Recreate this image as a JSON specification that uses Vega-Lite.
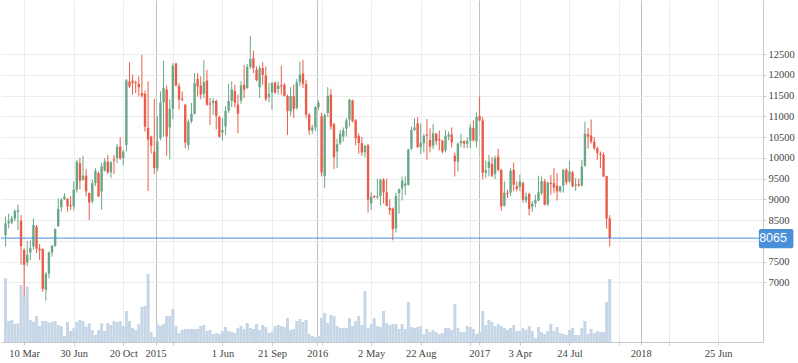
{
  "$schema": "https://vega.github.io/schema/vega-lite/v6.json",
  "width": 762,
  "height": 342,
  "padding": 0,
  "background": "white",
  "config": {"view": {"stroke": null}},
  "datasets": {
    "wk": [
      {"t":"2014-01-27","o":8140,"h":8580,"l":7860,"c":8420,"v":191},
      {"t":"2014-02-03","o":8420,"h":8650,"l":8300,"c":8470,"v":63},
      {"t":"2014-02-10","o":8440,"h":8600,"l":8400,"c":8540,"v":66},
      {"t":"2014-02-17","o":8540,"h":8760,"l":8470,"c":8720,"v":54},
      {"t":"2014-02-24","o":8700,"h":8870,"l":8260,"c":8740,"v":56},
      {"t":"2014-03-03","o":8480,"h":8620,"l":7420,"c":7870,"v":171},
      {"t":"2014-03-10","o":7780,"h":7820,"l":6650,"c":7420,"v":136},
      {"t":"2014-03-17","o":7480,"h":8000,"l":7390,"c":7660,"v":166},
      {"t":"2014-03-24","o":7720,"h":8010,"l":7540,"c":7820,"v":66},
      {"t":"2014-03-31","o":7860,"h":8540,"l":7780,"c":8380,"v":61},
      {"t":"2014-04-07","o":8340,"h":8380,"l":7700,"c":7810,"v":78},
      {"t":"2014-04-14","o":7810,"h":7920,"l":7540,"c":7770,"v":48},
      {"t":"2014-04-21","o":7800,"h":7820,"l":6770,"c":6840,"v":63},
      {"t":"2014-04-28","o":6820,"h":7250,"l":6560,"c":7200,"v":63},
      {"t":"2014-05-05","o":7210,"h":7740,"l":7100,"c":7720,"v":58},
      {"t":"2014-05-12","o":7720,"h":7900,"l":7620,"c":7880,"v":60},
      {"t":"2014-05-19","o":7880,"h":8300,"l":7850,"c":8280,"v":63},
      {"t":"2014-05-26","o":8350,"h":9020,"l":8340,"c":8770,"v":51},
      {"t":"2014-06-02","o":8810,"h":9030,"l":8700,"c":8990,"v":48},
      {"t":"2014-06-09","o":9000,"h":9150,"l":8980,"c":9070,"v":18},
      {"t":"2014-06-16","o":9010,"h":9030,"l":8700,"c":8830,"v":60},
      {"t":"2014-06-23","o":8860,"h":9080,"l":8740,"c":8830,"v":33},
      {"t":"2014-06-30","o":8830,"h":9430,"l":8730,"c":9230,"v":41},
      {"t":"2014-07-07","o":9230,"h":9950,"l":9160,"c":9900,"v":60},
      {"t":"2014-07-14","o":9870,"h":10000,"l":9240,"c":9450,"v":66},
      {"t":"2014-07-21","o":9470,"h":10050,"l":9440,"c":9570,"v":63},
      {"t":"2014-07-28","o":9570,"h":9730,"l":9070,"c":9190,"v":46},
      {"t":"2014-08-04","o":9150,"h":9160,"l":8500,"c":8920,"v":56},
      {"t":"2014-08-11","o":8950,"h":9470,"l":8900,"c":9390,"v":36},
      {"t":"2014-08-18","o":9390,"h":9750,"l":9320,"c":9690,"v":21},
      {"t":"2014-08-25","o":9630,"h":9670,"l":9050,"c":9070,"v":36},
      {"t":"2014-09-01","o":9190,"h":9870,"l":8750,"c":9790,"v":56},
      {"t":"2014-09-08","o":9690,"h":9990,"l":9670,"c":9910,"v":33},
      {"t":"2014-09-15","o":9900,"h":10070,"l":9610,"c":9650,"v":57},
      {"t":"2014-09-22","o":9650,"h":9920,"l":9510,"c":9890,"v":51},
      {"t":"2014-09-29","o":9960,"h":10070,"l":9610,"c":9930,"v":63},
      {"t":"2014-10-06","o":9990,"h":10330,"l":9870,"c":10270,"v":60},
      {"t":"2014-10-13","o":10270,"h":10490,"l":9950,"c":9990,"v":63},
      {"t":"2014-10-20","o":9990,"h":10190,"l":9810,"c":10150,"v":48},
      {"t":"2014-10-27","o":10310,"h":11900,"l":10150,"c":11865,"v":93},
      {"t":"2014-11-03","o":11840,"h":12300,"l":11680,"c":11720,"v":63},
      {"t":"2014-11-10","o":11860,"h":12000,"l":11520,"c":11800,"v":42},
      {"t":"2014-11-17","o":11820,"h":11860,"l":11560,"c":11790,"v":36},
      {"t":"2014-11-24","o":11780,"h":11960,"l":11480,"c":11700,"v":53},
      {"t":"2014-12-01","o":11560,"h":12480,"l":11450,"c":11500,"v":105},
      {"t":"2014-12-08","o":11540,"h":11620,"l":10630,"c":10750,"v":108},
      {"t":"2014-12-15","o":10720,"h":11840,"l":9200,"c":10440,"v":204},
      {"t":"2014-12-22","o":10510,"h":10530,"l":10100,"c":10290,"v":30},
      {"t":"2014-12-29","o":10150,"h":11420,"l":9610,"c":9750,"v":15},
      {"t":"2015-01-05","o":9750,"h":11010,"l":9670,"c":10390,"v":54},
      {"t":"2015-01-12","o":10470,"h":11600,"l":10420,"c":11330,"v":48},
      {"t":"2015-01-19","o":11330,"h":12340,"l":10510,"c":11680,"v":54},
      {"t":"2015-01-26","o":11640,"h":11740,"l":10050,"c":10510,"v":78},
      {"t":"2015-02-02","o":10730,"h":11410,"l":9960,"c":11180,"v":78},
      {"t":"2015-02-09","o":11180,"h":12280,"l":10930,"c":12220,"v":99},
      {"t":"2015-02-16","o":12270,"h":12290,"l":11720,"c":11740,"v":48},
      {"t":"2015-02-23","o":11730,"h":11800,"l":11160,"c":11400,"v":27},
      {"t":"2015-03-02","o":11430,"h":11600,"l":11360,"c":11400,"v":36},
      {"t":"2015-03-09","o":11280,"h":11300,"l":10230,"c":10370,"v":39},
      {"t":"2015-03-16","o":10310,"h":10920,"l":10190,"c":10870,"v":39},
      {"t":"2015-03-23","o":10880,"h":11320,"l":10830,"c":11060,"v":39},
      {"t":"2015-03-30","o":11060,"h":12040,"l":11040,"c":11800,"v":39},
      {"t":"2015-04-06","o":11900,"h":12040,"l":11480,"c":11720,"v":39},
      {"t":"2015-04-13","o":11740,"h":11960,"l":11410,"c":11520,"v":48},
      {"t":"2015-04-20","o":11540,"h":12350,"l":11440,"c":11820,"v":51},
      {"t":"2015-04-27","o":11860,"h":12120,"l":11250,"c":11280,"v":33},
      {"t":"2015-05-04","o":11310,"h":11440,"l":10790,"c":11280,"v":36},
      {"t":"2015-05-11","o":11320,"h":11440,"l":11030,"c":11370,"v":24},
      {"t":"2015-05-18","o":11370,"h":11400,"l":10680,"c":11010,"v":27},
      {"t":"2015-05-25","o":10980,"h":11010,"l":10480,"c":10510,"v":24},
      {"t":"2015-06-01","o":10610,"h":10950,"l":10420,"c":10670,"v":33},
      {"t":"2015-06-08","o":10755,"h":11240,"l":10550,"c":11130,"v":45},
      {"t":"2015-06-15","o":11130,"h":11780,"l":11080,"c":11370,"v":33},
      {"t":"2015-06-22","o":11370,"h":11840,"l":11220,"c":11650,"v":30},
      {"t":"2015-06-29","o":11610,"h":11760,"l":11210,"c":11330,"v":27},
      {"t":"2015-07-06","o":11280,"h":11520,"l":10590,"c":11060,"v":42},
      {"t":"2015-07-13","o":11380,"h":11840,"l":11300,"c":11740,"v":48},
      {"t":"2015-07-20","o":11760,"h":12240,"l":11440,"c":11640,"v":39},
      {"t":"2015-07-27","o":11680,"h":12260,"l":11660,"c":12190,"v":57},
      {"t":"2015-08-03","o":12190,"h":12940,"l":12140,"c":12380,"v":42},
      {"t":"2015-08-10","o":12400,"h":12580,"l":12040,"c":12160,"v":39},
      {"t":"2015-08-17","o":12120,"h":12200,"l":11840,"c":11870,"v":54},
      {"t":"2015-08-24","o":11700,"h":12220,"l":11440,"c":12160,"v":36},
      {"t":"2015-08-31","o":12160,"h":12300,"l":11760,"c":12000,"v":51},
      {"t":"2015-09-07","o":11980,"h":12200,"l":11360,"c":11410,"v":45},
      {"t":"2015-09-14","o":11460,"h":11800,"l":11330,"c":11540,"v":27},
      {"t":"2015-09-21","o":11570,"h":11830,"l":11160,"c":11800,"v":30},
      {"t":"2015-09-28","o":11810,"h":11840,"l":11540,"c":11570,"v":48},
      {"t":"2015-10-05","o":11660,"h":11840,"l":11520,"c":11740,"v":51},
      {"t":"2015-10-12","o":11750,"h":12220,"l":11520,"c":11720,"v":48},
      {"t":"2015-10-19","o":11760,"h":11800,"l":11480,"c":11490,"v":45},
      {"t":"2015-10-26","o":11490,"h":11520,"l":10550,"c":11130,"v":72},
      {"t":"2015-11-02","o":11120,"h":11700,"l":11010,"c":11490,"v":36},
      {"t":"2015-11-09","o":11480,"h":11760,"l":10960,"c":11170,"v":39},
      {"t":"2015-11-16","o":11200,"h":11900,"l":11160,"c":11820,"v":63},
      {"t":"2015-11-23","o":11820,"h":12320,"l":11720,"c":12000,"v":69},
      {"t":"2015-11-30","o":12030,"h":12360,"l":11680,"c":11780,"v":60},
      {"t":"2015-12-07","o":11780,"h":11880,"l":10950,"c":11040,"v":66},
      {"t":"2015-12-14","o":11040,"h":11080,"l":10550,"c":10660,"v":24},
      {"t":"2015-12-21","o":10660,"h":10800,"l":10580,"c":10730,"v":18},
      {"t":"2015-12-28","o":10730,"h":11250,"l":10640,"c":11220,"v":15},
      {"t":"2016-01-04","o":11220,"h":11380,"l":11160,"c":11320,"v":18},
      {"t":"2016-01-11","o":11000,"h":11090,"l":9550,"c":9650,"v":72},
      {"t":"2016-01-18","o":9560,"h":11070,"l":9270,"c":11030,"v":87},
      {"t":"2016-01-25","o":11077,"h":11700,"l":10980,"c":11490,"v":57},
      {"t":"2016-02-01","o":11520,"h":11650,"l":10675,"c":10755,"v":81},
      {"t":"2016-02-08","o":10810,"h":10840,"l":9730,"c":10010,"v":78},
      {"t":"2016-02-15","o":10150,"h":10450,"l":9750,"c":10330,"v":48},
      {"t":"2016-02-22","o":10350,"h":10675,"l":10310,"c":10580,"v":42},
      {"t":"2016-02-29","o":10510,"h":10730,"l":10390,"c":10660,"v":42},
      {"t":"2016-03-07","o":10700,"h":10960,"l":10510,"c":10900,"v":42},
      {"t":"2016-03-14","o":10920,"h":11420,"l":10750,"c":11400,"v":72},
      {"t":"2016-03-21","o":11380,"h":11400,"l":10850,"c":10880,"v":48},
      {"t":"2016-03-28","o":10900,"h":10930,"l":10300,"c":10470,"v":63},
      {"t":"2016-04-04","o":10530,"h":10590,"l":10100,"c":10350,"v":78},
      {"t":"2016-04-11","o":10350,"h":10500,"l":10050,"c":10130,"v":51},
      {"t":"2016-04-18","o":10130,"h":10310,"l":10010,"c":10290,"v":153},
      {"t":"2016-04-25","o":10300,"h":10330,"l":8680,"c":8990,"v":42},
      {"t":"2016-05-02","o":8900,"h":9170,"l":8740,"c":9060,"v":54},
      {"t":"2016-05-09","o":9080,"h":9100,"l":9030,"c":9050,"v":72},
      {"t":"2016-05-16","o":9050,"h":9500,"l":9000,"c":9080,"v":48},
      {"t":"2016-05-23","o":9080,"h":9500,"l":8850,"c":9470,"v":45},
      {"t":"2016-05-30","o":9470,"h":9510,"l":8900,"c":9170,"v":93},
      {"t":"2016-06-06","o":9170,"h":9500,"l":8830,"c":8840,"v":57},
      {"t":"2016-06-13","o":8790,"h":9000,"l":8620,"c":8740,"v":51},
      {"t":"2016-06-20","o":8780,"h":8800,"l":8010,"c":8280,"v":54},
      {"t":"2016-06-27","o":8300,"h":9160,"l":8200,"c":9080,"v":54},
      {"t":"2016-07-04","o":9150,"h":9260,"l":8650,"c":9240,"v":39},
      {"t":"2016-07-11","o":9260,"h":9550,"l":8970,"c":9450,"v":54},
      {"t":"2016-07-18","o":9330,"h":9550,"l":9100,"c":9380,"v":39},
      {"t":"2016-07-25","o":9350,"h":10220,"l":9330,"c":10200,"v":120},
      {"t":"2016-08-01","o":10220,"h":10750,"l":10180,"c":10670,"v":45},
      {"t":"2016-08-08","o":10670,"h":10950,"l":10650,"c":10730,"v":42},
      {"t":"2016-08-15","o":10830,"h":10980,"l":10230,"c":10260,"v":45},
      {"t":"2016-08-22","o":10260,"h":10830,"l":10090,"c":10360,"v":48},
      {"t":"2016-08-29","o":10350,"h":10580,"l":10130,"c":10530,"v":24},
      {"t":"2016-09-05","o":10560,"h":10930,"l":9950,"c":10530,"v":39},
      {"t":"2016-09-12","o":10430,"h":10710,"l":10130,"c":10270,"v":30},
      {"t":"2016-09-19","o":10290,"h":10820,"l":10210,"c":10590,"v":36},
      {"t":"2016-09-26","o":10580,"h":10600,"l":10310,"c":10400,"v":30},
      {"t":"2016-10-03","o":10450,"h":10660,"l":10180,"c":10420,"v":24},
      {"t":"2016-10-10","o":10410,"h":10430,"l":10100,"c":10150,"v":27},
      {"t":"2016-10-17","o":10180,"h":10670,"l":10130,"c":10530,"v":42},
      {"t":"2016-10-24","o":10510,"h":10630,"l":10420,"c":10560,"v":42},
      {"t":"2016-10-31","o":10560,"h":10730,"l":10250,"c":10370,"v":36},
      {"t":"2016-11-07","o":10050,"h":10130,"l":9550,"c":9910,"v":114},
      {"t":"2016-11-14","o":9910,"h":10370,"l":9670,"c":10340,"v":42},
      {"t":"2016-11-21","o":10350,"h":10580,"l":10250,"c":10400,"v":30},
      {"t":"2016-11-28","o":10400,"h":10420,"l":10230,"c":10340,"v":30},
      {"t":"2016-12-05","o":10340,"h":10500,"l":10230,"c":10410,"v":48},
      {"t":"2016-12-12","o":10410,"h":10810,"l":10230,"c":10730,"v":45},
      {"t":"2016-12-19","o":10720,"h":10900,"l":10390,"c":10420,"v":39},
      {"t":"2016-12-26","o":10390,"h":11090,"l":10250,"c":10980,"v":24},
      {"t":"2017-01-02","o":11010,"h":11480,"l":10880,"c":10900,"v":30},
      {"t":"2017-01-09","o":10900,"h":10980,"l":9480,"c":9640,"v":93},
      {"t":"2017-01-16","o":9640,"h":9930,"l":9510,"c":9700,"v":51},
      {"t":"2017-01-23","o":9760,"h":10070,"l":9550,"c":9900,"v":66},
      {"t":"2017-01-30","o":9850,"h":10020,"l":9530,"c":9570,"v":60},
      {"t":"2017-02-06","o":9610,"h":10050,"l":9490,"c":9990,"v":48},
      {"t":"2017-02-13","o":10030,"h":10220,"l":9670,"c":9710,"v":54},
      {"t":"2017-02-20","o":9710,"h":9730,"l":8720,"c":8830,"v":48},
      {"t":"2017-02-27","o":8840,"h":9430,"l":8830,"c":9160,"v":42},
      {"t":"2017-03-06","o":9160,"h":9230,"l":9030,"c":9130,"v":36},
      {"t":"2017-03-13","o":9160,"h":9760,"l":9080,"c":9690,"v":42},
      {"t":"2017-03-20","o":9710,"h":9890,"l":9190,"c":9350,"v":51},
      {"t":"2017-03-27","o":9310,"h":9430,"l":9190,"c":9250,"v":33},
      {"t":"2017-04-03","o":9300,"h":9590,"l":9190,"c":9430,"v":33},
      {"t":"2017-04-10","o":9390,"h":9430,"l":8920,"c":8990,"v":42},
      {"t":"2017-04-17","o":8970,"h":9160,"l":8910,"c":9070,"v":36},
      {"t":"2017-04-24","o":9130,"h":9160,"l":8610,"c":8770,"v":48},
      {"t":"2017-05-01","o":8820,"h":8960,"l":8700,"c":8890,"v":33},
      {"t":"2017-05-08","o":8900,"h":9110,"l":8810,"c":8980,"v":12},
      {"t":"2017-05-15","o":8970,"h":9570,"l":8950,"c":9170,"v":45},
      {"t":"2017-05-22","o":9150,"h":9550,"l":9100,"c":9440,"v":30},
      {"t":"2017-05-29","o":9430,"h":9490,"l":8850,"c":8870,"v":24},
      {"t":"2017-06-05","o":8880,"h":9430,"l":8840,"c":9400,"v":33},
      {"t":"2017-06-12","o":9400,"h":9590,"l":9110,"c":9370,"v":54},
      {"t":"2017-06-19","o":9390,"h":9750,"l":9150,"c":9280,"v":33},
      {"t":"2017-06-26","o":9330,"h":9630,"l":8970,"c":9190,"v":45},
      {"t":"2017-07-03","o":9190,"h":9330,"l":9160,"c":9310,"v":27},
      {"t":"2017-07-10","o":9330,"h":9730,"l":9160,"c":9710,"v":24},
      {"t":"2017-07-17","o":9710,"h":9750,"l":9350,"c":9410,"v":21},
      {"t":"2017-07-24","o":9430,"h":9930,"l":9390,"c":9670,"v":36},
      {"t":"2017-07-31","o":9650,"h":9680,"l":9290,"c":9310,"v":42},
      {"t":"2017-08-07","o":9330,"h":9510,"l":9200,"c":9360,"v":21},
      {"t":"2017-08-14","o":9360,"h":9500,"l":9300,"c":9330,"v":21},
      {"t":"2017-08-21","o":9330,"h":9950,"l":9310,"c":9790,"v":42},
      {"t":"2017-08-28","o":9800,"h":10870,"l":9790,"c":10580,"v":63},
      {"t":"2017-09-04","o":10570,"h":10720,"l":10220,"c":10510,"v":24},
      {"t":"2017-09-11","o":10540,"h":10920,"l":10340,"c":10390,"v":39},
      {"t":"2017-09-18","o":10390,"h":10500,"l":10180,"c":10230,"v":27},
      {"t":"2017-09-25","o":10230,"h":10260,"l":9950,"c":10110,"v":33},
      {"t":"2017-10-02","o":10100,"h":10150,"l":9750,"c":10070,"v":30},
      {"t":"2017-10-09","o":10070,"h":10130,"l":9530,"c":9550,"v":30},
      {"t":"2017-10-16","o":9560,"h":9570,"l":8290,"c":8540,"v":120},
      {"t":"2017-10-23","o":8540,"h":8620,"l":7860,"c":8065,"v":189}
    ],
    "last": [{"p": 8065}]
  },
  "layer": [
    {
      "data": {"name": "wk"},
      "mark": {"type": "bar", "size": 3, "color": "#c6d6e7", "clip": true},
      "encoding": {
        "x": {"field": "t", "type": "temporal",
              "scale": {"type": "utc", "domain": [{"year": 2014, "month": 1, "date": 28, "utc": true}, {"year": 2018, "month": 9, "date": 23, "utc": true}]}},
        "y": {"field": "v", "type": "quantitative", "scale": {"domain": [0, 1026], "nice": false, "zero": true}, "axis": null}
      }
    },
    {
      "data": {"name": "wk"},
      "mark": {"type": "rule", "strokeWidth": 1, "clip": true},
      "encoding": {
        "x": {"field": "t", "type": "temporal",
              "scale": {"type": "utc", "domain": [{"year": 2014, "month": 1, "date": 28, "utc": true}, {"year": 2018, "month": 9, "date": 23, "utc": true}]},
              "axis": {
                "title": null,
                "orient": "bottom",
                "values": [
                  {"year": 2014, "month": 3, "date": 10, "utc": true},
                  {"year": 2014, "month": 6, "date": 30, "utc": true},
                  {"year": 2014, "month": 10, "date": 20, "utc": true},
                  {"year": 2015, "month": 1, "date": 1, "utc": true},
                  {"year": 2015, "month": 2, "date": 9, "utc": true},
                  {"year": 2015, "month": 6, "date": 1, "utc": true},
                  {"year": 2015, "month": 9, "date": 21, "utc": true},
                  {"year": 2016, "month": 1, "date": 1, "utc": true},
                  {"year": 2016, "month": 1, "date": 11, "utc": true},
                  {"year": 2016, "month": 5, "date": 2, "utc": true},
                  {"year": 2016, "month": 8, "date": 22, "utc": true},
                  {"year": 2016, "month": 12, "date": 12, "utc": true},
                  {"year": 2017, "month": 1, "date": 1, "utc": true},
                  {"year": 2017, "month": 4, "date": 3, "utc": true},
                  {"year": 2017, "month": 7, "date": 24, "utc": true},
                  {"year": 2017, "month": 11, "date": 13, "utc": true},
                  {"year": 2018, "month": 1, "date": 1, "utc": true},
                  {"year": 2018, "month": 3, "date": 5, "utc": true},
                  {"year": 2018, "month": 6, "date": 25, "utc": true}
                ],
                "labelExpr": "(utcmonth(datum.value) == 0 && utcdate(datum.value) == 1) ? utcFormat(datum.value, '%Y') : (indexof([20150109, 20160011, 20161112, 20171013, 20180205], utcyear(datum.value) * 10000 + utcmonth(datum.value) * 100 + utcdate(datum.value)) >= 0 ? '' : utcFormat(datum.value, '%-d %b'))",
                "labelOverlap": false,
                "labelFont": "Liberation Serif",
                "labelFontSize": 10.5,
                "labelColor": "#444444",
                "labelPadding": 3,
                "grid": true,
                "gridColor": {"condition": {"test": "utcmonth(datum.value) == 0 && utcdate(datum.value) == 1", "value": "#c0c0c0"}, "value": "#ececec"},
                "gridWidth": 1,
                "domainColor": "#c8c8c8",
                "tickColor": "#c8c8c8",
                "tickSize": 3
              }},
        "y": {"field": "l", "type": "quantitative",
              "scale": {"domain": [5562, 13801], "nice": false, "zero": false},
              "axis": {
                "title": null,
                "orient": "right",
                "values": [7000, 7500, 8000, 8500, 9000, 9500, 10000, 10500, 11000, 11500, 12000, 12500],
                "labelExpr": "datum.value == 8000 ? '' : format(datum.value, 'd')",
                "labelOverlap": false,
                "labelFont": "Liberation Serif",
                "labelFontSize": 10.5,
                "labelColor": "#444444",
                "labelPadding": 2,
                "grid": true,
                "gridColor": "#ececec",
                "domainColor": "#c8c8c8",
                "tickColor": "#c8c8c8",
                "tickSize": 3
              }},
        "y2": {"field": "h"},
        "color": {"condition": {"test": "datum.c >= datum.o", "value": "#6aa787"}, "value": "#e95d4a"}
      }
    },
    {
      "data": {"name": "wk"},
      "mark": {"type": "bar", "size": 2.4, "clip": true},
      "encoding": {
        "x": {"field": "t", "type": "temporal"},
        "y": {"field": "o", "type": "quantitative", "scale": {"domain": [5562, 13801], "nice": false, "zero": false}, "axis": null},
        "y2": {"field": "c"},
        "color": {"condition": {"test": "datum.c >= datum.o", "value": "#6aa787"}, "value": "#e95d4a"}
      }
    },
    {
      "data": {"name": "last"},
      "mark": {"type": "rule", "color": "#4a8fdb", "strokeWidth": 1},
      "encoding": {
        "y": {"field": "p", "type": "quantitative", "scale": {"domain": [5562, 13801], "nice": false, "zero": false}, "axis": null}
      }
    },
    {
      "data": {"name": "last"},
      "mark": {"type": "rect", "color": "#4a90d9", "cornerRadius": 2},
      "encoding": {
        "x": {"datum": {"year": 2018, "month": 9, "date": 25, "utc": true}, "type": "temporal"},
        "x2": {"datum": {"year": 2018, "month": 12, "date": 12, "utc": true}},
        "y": {"datum": 7819, "type": "quantitative", "scale": {"domain": [5562, 13801], "nice": false, "zero": false}, "axis": null},
        "y2": {"datum": 8284}
      }
    },
    {
      "data": {"name": "last"},
      "mark": {"type": "text", "color": "white", "font": "Liberation Sans", "fontSize": 12.5, "align": "center", "baseline": "middle"},
      "encoding": {
        "x": {"datum": {"year": 2018, "month": 10, "date": 27, "utc": true}, "type": "temporal"},
        "y": {"field": "p", "type": "quantitative", "scale": {"domain": [5562, 13801], "nice": false, "zero": false}, "axis": null},
        "text": {"field": "p", "type": "quantitative", "format": "d"}
      }
    }
  ],
  "resolve": {"scale": {"y": "independent"}}
}
